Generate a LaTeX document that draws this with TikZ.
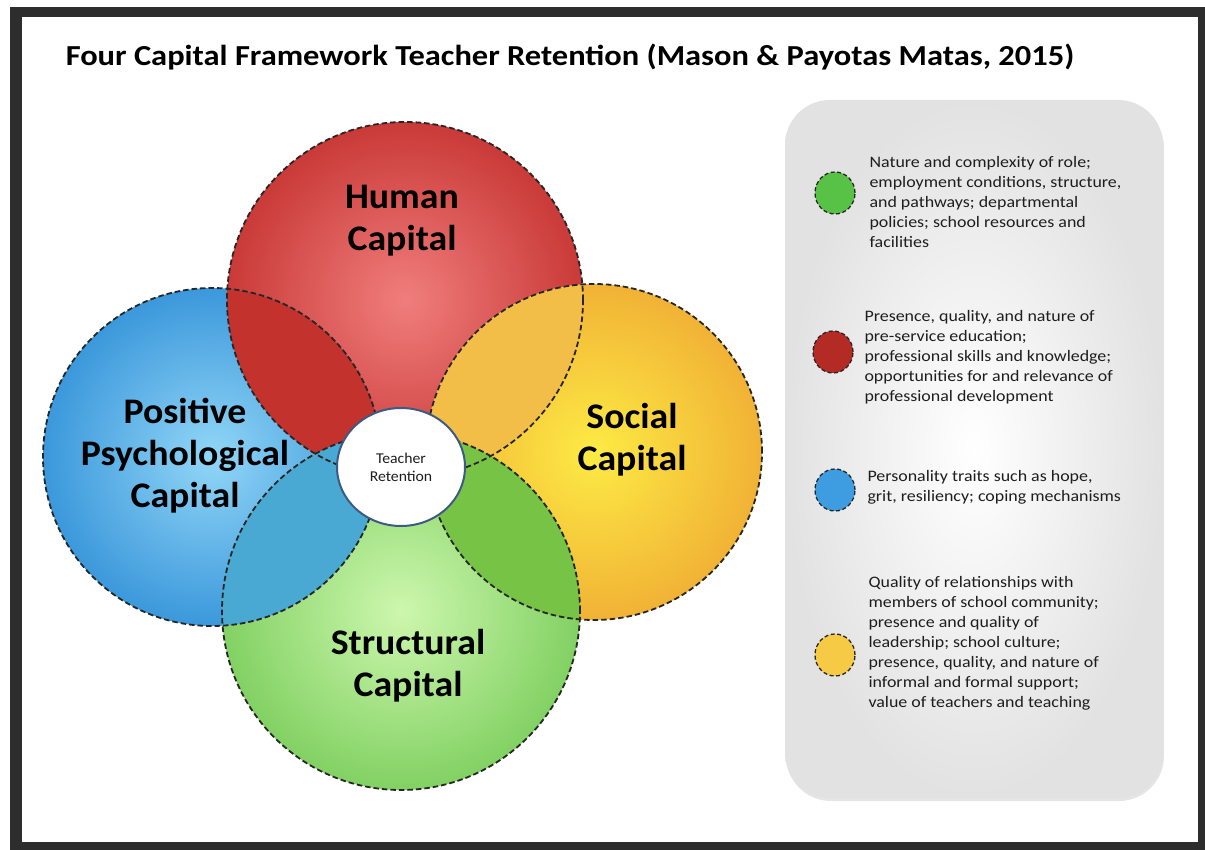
\documentclass[tikz,border=0pt]{standalone}
\usepackage{fontspec}
\setmainfont{Carlito}
\newfontfamily\widefont[FakeStretch=1.12]{Carlito}
\newfontfamily\labfont[FakeStretch=1.05]{Carlito}
\usetikzlibrary{shapes.geometric,shadows}
\definecolor{framec}{HTML}{2D2D2D}
\definecolor{redin}{HTML}{F07E7C}
\definecolor{redout}{HTML}{C93A38}
\definecolor{bluein}{HTML}{92D6F7}
\definecolor{blueout}{HTML}{3B98DB}
\definecolor{yelin}{HTML}{FDEB45}
\definecolor{yelout}{HTML}{F1B235}
\definecolor{grnin}{HTML}{CDF7AE}
\definecolor{grnout}{HTML}{82D163}
\definecolor{lensrb}{HTML}{C3322D}
\definecolor{lensry}{HTML}{F3BE47}
\definecolor{lensyg}{HTML}{77C345}
\definecolor{lensbg}{HTML}{4AA9D2}
\definecolor{dashc}{HTML}{262626}
\definecolor{ringc}{HTML}{3D5B82}
\definecolor{panelin}{HTML}{FFFFFF}
\definecolor{panelout}{HTML}{E2E2E2}
\definecolor{txtc}{HTML}{1E1E1E}
\definecolor{legg}{HTML}{58C247}
\definecolor{legr}{HTML}{B42A25}
\definecolor{legb}{HTML}{3D9DE0}
\definecolor{legy}{HTML}{F6CA45}
\tikzset{
  outline/.style={draw=dashc, line width=1.8pt, dash pattern=on 5.5pt off 3pt},
  biglabel/.style={font=\labfont\fontsize{36}{42}\selectfont\bfseries, align=center, text=black},
  legtext/.style={font=\widefont\fontsize{16}{20}\selectfont, align=left, text=txtc, anchor=west},
  legdot/.style={ellipse, minimum width=40pt, minimum height=42pt, draw=dashc, line width=1.3pt, dash pattern=on 4pt off 2.5pt},
}
\begin{document}
\begin{tikzpicture}[x=1pt,y=-1pt]
\useasboundingbox (0,0) rectangle (1205,850);
% frame
\fill[white] (0,0) rectangle (1205,850);
\fill[framec] (10,7) rectangle (1205,850);
\fill[white] (22,17) rectangle (1198,842);
% title
\node[font=\widefont\fontsize{29}{32}\selectfont\bfseries, text=black] (title) at (570,57) {Four Capital Framework Teacher Retention (Mason \& Payotas Matas, 2015)};
% circles
\coordinate (ch) at (405,300);
\coordinate (cb) at (212,457);
\coordinate (cy) at (594,452);
\coordinate (cg) at (401,611);
\shade[inner color=redin, outer color=redout] (ch) circle[radius=178pt];
\shade[inner color=bluein, outer color=blueout] (cb) circle[radius=169pt];
\shade[inner color=yelin, outer color=yelout] (cy) circle[radius=168pt];
\shade[inner color=grnin, outer color=grnout] (cg) circle[radius=179pt];
% lenses
\begin{scope}
  \clip (ch) circle[radius=178pt];
  \fill[lensrb] (cb) circle[radius=169pt];
  \fill[lensry] (cy) circle[radius=168pt];
\end{scope}
\begin{scope}
  \clip (cg) circle[radius=179pt];
  \fill[lensyg] (cy) circle[radius=168pt];
  \fill[lensbg] (cb) circle[radius=169pt];
\end{scope}
% outlines
\draw[outline] (ch) circle[radius=178pt];
\draw[outline] (cb) circle[radius=169pt];
\draw[outline] (cy) circle[radius=168pt];
\draw[outline] (cg) circle[radius=179pt];
% centre
\node[ellipse, fill=white, draw=ringc, line width=2pt, minimum width=128pt, minimum height=118pt, inner sep=0pt, align=center, font=\labfont\fontsize{15}{18}\selectfont, text=txtc] (ret) at (401,467) {Teacher\\Retention};
% labels
\node[biglabel] (hum) at (402,221) {Human\\Capital};
\node[biglabel] (psy) at (185,456) {Positive\\Psychological\\Capital};
\node[biglabel] (soc) at (632,440) {Social\\Capital};
\node[biglabel] (str) at (408,666) {Structural\\Capital};
% panel
\path[rounded corners=45pt, inner color=panelin, outer color=panelout, drop shadow={opacity=0.2, shadow xshift=1pt, shadow yshift=-3pt}] (785,100) rectangle (1163,798);
\node[legdot, fill=legg] (dg) at (835,193) {};
\node[legdot, fill=legr] (dr) at (833,352) {};
\node[legdot, fill=legb] (db) at (835,490) {};
\node[legdot, fill=legy] (dy) at (835,655) {};
\node[legtext] (tg) at (866,202) {Nature and complexity of role;\\employment conditions, structure,\\and pathways; departmental\\policies; school resources and\\facilities};
\node[legtext] (tr) at (861,357) {Presence, quality, and nature of\\pre-service education;\\professional skills and knowledge;\\opportunities for and relevance of\\professional development};
\node[legtext] (tb) at (864,487) {Personality traits such as hope,\\grit, resiliency; coping mechanisms};
\node[legtext] (ty) at (865,643) {Quality of relationships with\\members of school community;\\presence and quality of\\leadership; school culture;\\presence, quality, and nature of\\informal and formal support;\\value of teachers and teaching};
\end{tikzpicture}
\end{document}
